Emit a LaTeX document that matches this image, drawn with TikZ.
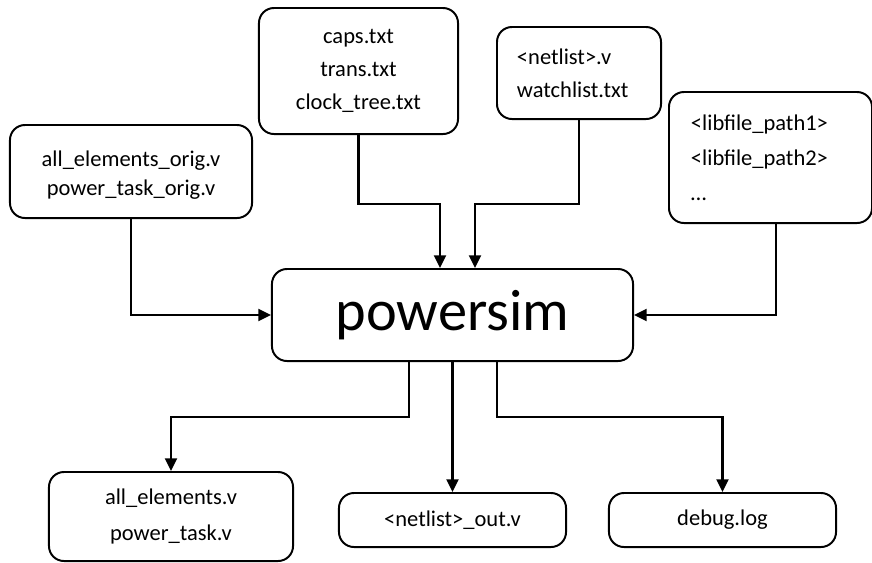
\documentclass[tikz,border=0pt]{standalone}
\usepackage{fontspec}
\setmainfont{Carlito}
\usetikzlibrary{arrows.meta}
\usetikzlibrary{calc}

\tikzset{
  filebox/.style={draw, rounded corners=0.375cm, line width=1.4pt, inner sep=0pt,
    align=center, font=\fontsize{16}{23.5}\selectfont},
  flow/.style={line width=1.5pt, -{Triangle[length=9pt,width=8.5pt]}},
}

\begin{document}
\begin{tikzpicture}[x=0.025cm, y=-0.025cm]
  \useasboundingbox (0,0) rectangle (872,562);
  % tool in the middle
  \node[filebox, minimum width=9.025cm, minimum height=2.3cm,
        font=\fontsize{41.5}{48}\selectfont] (powersim) at (452.5,315) {powersim};
  % input files
  \node[filebox, minimum width=6.05cm, minimum height=2.325cm,
        font=\fontsize{16}{20.5}\selectfont] (origv) at (131,171.5)
        {\\[-4pt]all\_elements\_orig.v\\power\_task\_orig.v};
  \node[filebox, minimum width=4.975cm, minimum height=3.15cm] (txtin) at (358.5,71)
        {caps.txt\\trans.txt\\clock\_tree.txt};
  \node[filebox, minimum width=4.1cm, minimum height=2.3cm, text width=3.1cm,
        align=left] (netin) at (579,73) {<netlist>.v\\watchlist.txt};
  \node[filebox, minimum width=5.075cm, minimum height=3.275cm, text width=3.975cm,
        align=left, font=\fontsize{16}{25}\selectfont] (libin) at (770.5,157.5)
        {<libfile\_path1>\\<libfile\_path2>\\…};
  % output files
  \node[filebox, minimum width=6.1cm, minimum height=2.225cm,
        font=\fontsize{16}{25}\selectfont] (allout) at (171,516.5)
        {all\_elements.v\\power\_task.v};
  \node[filebox, minimum width=5.675cm, minimum height=1.35cm] (netout) at (452.5,520)
        {<netlist>\_out.v};
  \node[filebox, minimum width=5.675cm, minimum height=1.35cm] (dbglog) at (722.5,520)
        {debug.log};
  % inputs into powersim
  \coordinate (txtdrop) at ([xshift=-0.3125cm]powersim.north);
  \coordinate (netdrop) at ([xshift=0.5625cm]powersim.north);
  \draw[flow] (origv.south) |- (powersim.west);
  \draw[flow] (txtin.south) |- ([yshift=1.6cm]txtdrop) -- (txtdrop);
  \draw[flow] (netin.south) |- ([yshift=1.6cm]netdrop) -- (netdrop);
  \draw[flow] ([xshift=0.1375cm]libin.south) |- (powersim.east);
  % outputs of powersim
  \draw[flow] ([xshift=-1.0875cm]powersim.south) -- ++(0,-1.375cm) -| (allout.north);
  \draw[flow] (powersim.south) -- (netout.north);
  \draw[flow] ([xshift=1.1125cm]powersim.south) -- ++(0,-1.375cm) -| (dbglog.north);
\end{tikzpicture}
\end{document}
